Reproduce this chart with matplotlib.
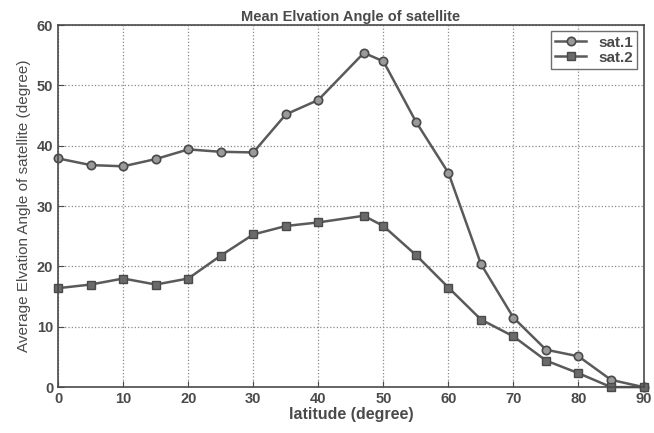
import matplotlib
matplotlib.use("Agg")
from matplotlib import pyplot as plt

# latitude of each sample point (degree)
latitude = [0, 5, 10, 15, 20, 25, 30, 35, 40, 47, 50, 55, 60, 65, 70, 75, 80, 85, 90]

# mean elevation angle (degree)
sat1 = [37.9, 36.8, 36.6, 37.8, 39.4, 39.0, 38.9, 45.2, 47.6, 55.4, 54.0, 44.0, 35.5,
        20.4, 11.5, 6.2, 5.1, 1.2, 0.0]
sat2 = [16.4, 17.0, 18.0, 17.0, 18.0, 21.8, 25.3, 26.7, 27.3, 28.4, 26.7, 21.9, 16.5,
        11.2, 8.4, 4.4, 2.3, 0.0, 0.0]

xticks = [0, 10, 20, 30, 40, 50, 60, 70, 80, 90]
yticks = [0, 10, 20, 30, 40, 50, 60]

plt.rcParams['font.family'] = ['Liberation Sans', 'DejaVu Sans']
plt.rcParams['font.weight'] = 'bold'

fig = plt.figure(figsize=(6.54, 4.33), dpi=100)
ax = fig.add_axes([0.089, 0.106, 0.895, 0.836])

line_col = '#5a5a5a'
ax.plot(latitude, sat1, '-o', color=line_col, lw=1.8, ms=6,
        mfc='#9a9a9a', mec='#4a4a4a', mew=1.2, label='sat.1', clip_on=False)
ax.plot(latitude, sat2, '-s', color=line_col, lw=1.8, ms=6,
        mfc='#6a6a6a', mec='#4a4a4a', mew=1.0, label='sat.2', clip_on=False)

ax.set_xlim(0, 90)
ax.set_ylim(0, 60)
ax.set_xticks(xticks)
ax.set_yticks(yticks)
ax.grid(True, linestyle=':', color='#8a8a8a', lw=0.9)
ax.tick_params(direction='in', labelsize=10.5, colors='#4a4a4a', length=4)
for s in ax.spines.values():
    s.set_color('#4a4a4a')
    s.set_linewidth(1.2)

ax.set_title('Mean Elvation Angle of satellite', fontsize=10.5, fontweight='bold',
             color='#4a4a4a', pad=3)
ax.set_xlabel('latitude (degree)', fontsize=11.5, fontweight='bold', color='#4a4a4a',
              labelpad=1)
ax.set_ylabel('Average Elvation Angle of satellite (degree)', fontsize=11,
              fontweight='normal', color='#4a4a4a', labelpad=4)

leg = ax.legend(loc='upper right', fontsize=11, frameon=True, fancybox=False,
                handlelength=2.0, borderpad=0.3, labelspacing=0.05,
                borderaxespad=0.4)
leg.get_frame().set_edgecolor('#4a4a4a')
leg.get_frame().set_linewidth(1.0)
for t in leg.get_texts():
    t.set_color('#4a4a4a')

fig.savefig('out.png', dpi=100)
